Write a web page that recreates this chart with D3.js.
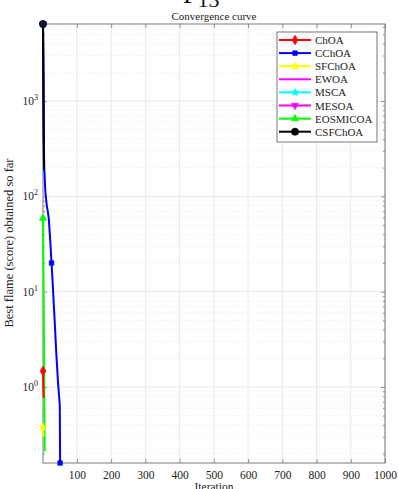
<!DOCTYPE html>
<html>
<head>
<meta charset="utf-8">
<script src="https://cdn.jsdelivr.net/npm/d3@7"></script>
<style>
  html, body { margin: 0; padding: 0; background: #fff; }
  svg { display: block; font-family: "Liberation Serif", "Times New Roman", serif; }
</style>
</head>
<body>
<svg id="chart" width="398" height="489"></svg>
<script>
// Convergence data: best score per iteration for each algorithm
const seriesNames = ["EWOA", "MSCA", "MESOA", "CChOA", "CSFChOA", "EOSMICOA", "ChOA", "SFChOA"];
const legendOrder = ["ChOA", "CChOA", "SFChOA", "EWOA", "MSCA", "MESOA", "EOSMICOA", "CSFChOA"];

const ewoaIter = [1, 2, 3, 4];
const ewoaVals = [6430, 1800, 500, 180];
const mscaIter = [1, 2, 3, 4];
const mscaVals = [6430, 1700, 450, 170];
const mesoaIter = [1, 2, 3, 4];
const mesoaVals = [6430, 1900, 550, 185];
const cchoaIter = [1, 2, 3, 5, 8, 12, 15, 18, 22, 26, 30, 35, 40, 45, 50, 51];
const cchoaVals = [6430, 1500, 400, 190, 110, 80, 70, 58, 35, 20, 11, 5, 2.2, 1.1, 0.65, 0.1595];
const csfchoaIter = [1, 2, 3, 4];
const csfchoaVals = [6430, 2000, 600, 190];
const eosmicoaIter = [1, 2, 4, 5, 6];
const eosmicoaVals = [59, 25, 3, 0.6, 0.21];
const choaIter = [1, 2, 3];
const choaVals = [1.47, 1.0, 0.77];
const sfchoaIter = [1, 2];
const sfchoaVals = [0.38, 0.3];

const xTicks = [100, 200, 300, 400, 500, 600, 700, 800, 900, 1000];
const yDecades = [0, 1, 2, 3];

const styles = {
  ChOA:     { color: "#ff0000", marker: "diamond" },
  CChOA:    { color: "#0000ff", marker: "square" },
  SFChOA:   { color: "#ffff00", marker: "star" },
  EWOA:     { color: "#ff00ff", marker: "none" },
  MSCA:     { color: "#00ffff", marker: "star" },
  MESOA:    { color: "#ff00ff", marker: "triDown" },
  EOSMICOA: { color: "#00ff00", marker: "triUp" },
  CSFChOA:  { color: "#000000", marker: "circle" }
};

const seriesData = {
  EWOA:     { iter: ewoaIter, vals: ewoaVals, marks: [0] },
  MSCA:     { iter: mscaIter, vals: mscaVals, marks: [0] },
  MESOA:    { iter: mesoaIter, vals: mesoaVals, marks: [0] },
  CChOA:    { iter: cchoaIter, vals: cchoaVals, marks: [0, 9, 15] },
  CSFChOA:  { iter: csfchoaIter, vals: csfchoaVals, marks: [0] },
  EOSMICOA: { iter: eosmicoaIter, vals: eosmicoaVals, marks: [0] },
  ChOA:     { iter: choaIter, vals: choaVals, marks: [0] },
  SFChOA:   { iter: sfchoaIter, vals: sfchoaVals, marks: [0] }
};

const margin = { left: 43, right: 13, top: 24, bottom: 26 };
const W = 398, H = 489;
const pw = W - margin.left - margin.right;
const ph = H - margin.top - margin.bottom;

const svg = d3.select("#chart");
const g = svg.append("g").attr("transform", `translate(${margin.left},${margin.top})`);

const x = d3.scaleLinear().domain([1, 1000]).range([0, pw]);
const y = d3.scaleLog().domain([0.1595, 6430]).range([ph, 0]);

// minor log values inside the domain
const minorVals = [];
for (let e = -1; e <= 3; e++) {
  for (let m = 2; m <= 9; m++) {
    const v = m * Math.pow(10, e);
    if (v >= y.domain()[0] && v <= y.domain()[1]) minorVals.push(v);
  }
}
const majorVals = yDecades.map(d => Math.pow(10, d));

// grid
g.append("g").selectAll("line").data(minorVals).join("line")
  .attr("x1", 0).attr("x2", pw)
  .attr("y1", d => y(d)).attr("y2", d => y(d))
  .attr("stroke", "#ececec").attr("stroke-width", 0.7)
  .attr("stroke-dasharray", "1.5,1.5");
g.append("g").selectAll("line").data(majorVals).join("line")
  .attr("x1", 0).attr("x2", pw)
  .attr("y1", d => y(d)).attr("y2", d => y(d))
  .attr("stroke", "#e3e3e3").attr("stroke-width", 0.8);
g.append("g").selectAll("line").data(xTicks).join("line")
  .attr("x1", d => x(d)).attr("x2", d => x(d))
  .attr("y1", 0).attr("y2", ph)
  .attr("stroke", "#e3e3e3").attr("stroke-width", 0.8);

// axes (ticks inward on all four sides)
const axisColor = "#7a7a7a";
const xb = d3.axisBottom(x).tickValues(xTicks).tickSize(-4).tickFormat(d => d).tickPadding(8);
const xt = d3.axisTop(x).tickValues(xTicks).tickSize(-4).tickFormat("");
const yl = d3.axisLeft(y).tickValues(majorVals).tickSize(-4).tickFormat("");
const yr = d3.axisRight(y).tickValues(majorVals).tickSize(-4).tickFormat("");
const ylm = d3.axisLeft(y).tickValues(minorVals).tickSize(-2).tickFormat("");
const yrm = d3.axisRight(y).tickValues(minorVals).tickSize(-2).tickFormat("");

function styleAxis(sel) {
  sel.select(".domain").remove();
  sel.selectAll(".tick line").attr("stroke", axisColor).attr("stroke-width", 0.8);
  sel.selectAll("text").attr("fill", "#222").style("font-size", "11.5px")
    .style("font-family", "'Liberation Serif', serif");
}
g.append("g").attr("transform", `translate(0,${ph})`).call(xb).call(styleAxis);
g.append("g").call(xt).call(styleAxis);
g.append("g").call(yl).call(styleAxis);
g.append("g").attr("transform", `translate(${pw},0)`).call(yr).call(styleAxis);
g.append("g").call(ylm).call(styleAxis);
g.append("g").attr("transform", `translate(${pw},0)`).call(yrm).call(styleAxis);

// box
g.append("rect").attr("x", 0).attr("y", 0).attr("width", pw).attr("height", ph)
  .attr("fill", "none").attr("stroke", axisColor).attr("stroke-width", 1);

// y tick labels 10^n
const yLab = g.append("g");
yDecades.forEach(e => {
  const t = yLab.append("text")
    .attr("x", -5).attr("y", y(Math.pow(10, e)) + 4)
    .attr("text-anchor", "end").attr("fill", "#222").style("font-size", "11.5px");
  t.append("tspan").text("10");
  t.append("tspan").attr("dy", -5).style("font-size", "8px").text(e);
});

// marker shapes
function symbolFor(name) {
  switch (name) {
    case "diamond": return d3.symbol().type(d3.symbolDiamond).size(26)();
    case "square":  return d3.symbol().type(d3.symbolSquare).size(20)();
    case "star":    return d3.symbol().type(d3.symbolStar).size(18)();
    case "triUp":   return d3.symbol().type(d3.symbolTriangle).size(22)();
    case "triDown": return d3.symbol().type(d3.symbolTriangle).size(22)();
    case "circle":  return d3.symbol().type(d3.symbolCircle).size(40)();
    default: return null;
  }
}

const line = d3.line().x(d => x(d[0])).y(d => y(d[1]));

seriesNames.forEach(name => {
  const s = seriesData[name];
  const st = styles[name];
  const pts = s.iter.map((it, i) => [it, s.vals[i]]);
  g.append("path").datum(pts).attr("d", line)
    .attr("fill", "none").attr("stroke", st.color).attr("stroke-width", 2)
    .attr("stroke-linejoin", "round");
  const sym = symbolFor(st.marker);
  if (sym) {
    g.append("g").selectAll("path").data(s.marks.map(i => pts[i])).join("path")
      .attr("d", sym)
      .attr("transform", d => `translate(${x(d[0])},${y(d[1])})${st.marker === "triDown" ? " rotate(180)" : ""}`)
      .attr("fill", name === "CSFChOA" ? "#14143a" : st.color)
      .attr("stroke", st.color).attr("stroke-width", 0.8);
  }
});

// legend
const lg = svg.append("g").attr("transform", "translate(277,32)");
lg.append("rect").attr("width", 100).attr("height", 110)
  .attr("fill", "#fff").attr("stroke", "#555").attr("stroke-width", 0.8);
legendOrder.forEach((name, i) => {
  const st = styles[name];
  const yy = 8 + i * 13.1;
  lg.append("line").attr("x1", 2).attr("x2", 34).attr("y1", yy).attr("y2", yy)
    .attr("stroke", st.color).attr("stroke-width", 2);
  const sym = symbolFor(st.marker);
  if (sym) {
    lg.append("path").attr("d", sym)
      .attr("transform", `translate(18,${yy})${st.marker === "triDown" ? " rotate(180)" : ""}`)
      .attr("fill", st.color).attr("stroke", st.color).attr("stroke-width", 0.8);
  }
  lg.append("text").attr("x", 38).attr("y", yy + 4)
    .attr("fill", "#222").style("font-size", "11px").text(name);
});

// titles
svg.append("text").attr("x", margin.left + pw / 2).attr("y", 20)
  .attr("text-anchor", "middle").attr("fill", "#222").style("font-size", "11px")
  .text("Convergence curve");
const big = svg.append("text").attr("x", 183).attr("y", 3).attr("fill", "#111")
  .style("font-size", "26px");
big.append("tspan").text("F");
big.append("tspan").attr("dy", 4).style("font-size", "22px").text("13");

svg.append("text").attr("x", margin.left + pw / 2).attr("y", 491)
  .attr("text-anchor", "middle").attr("fill", "#222").style("font-size", "11.5px")
  .text("Iteration");
svg.append("text").attr("transform", `translate(13,243) rotate(-90)`)
  .attr("text-anchor", "middle").attr("fill", "#222").style("font-size", "12.5px")
  .text("Best flame (score) obtained so far");
</script>
</body>
</html>
